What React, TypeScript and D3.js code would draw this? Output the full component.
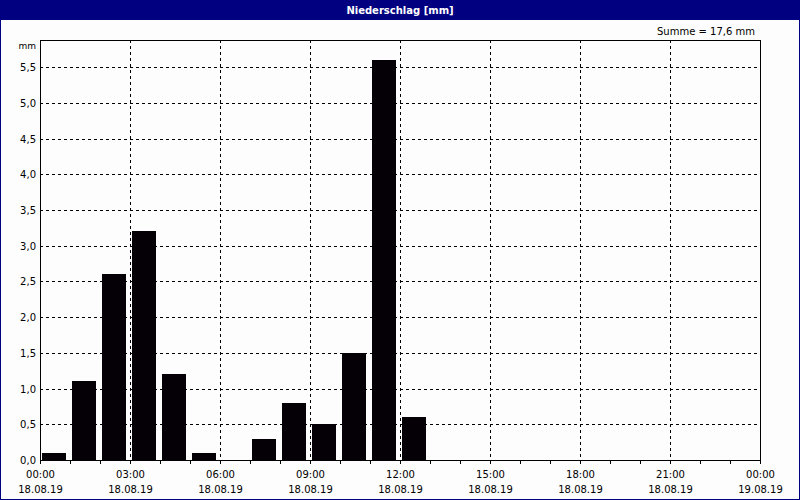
import React, { useEffect, useRef } from 'react';
import * as d3 from 'd3';

// hourly precipitation, 18.08.19 (start hour -> mm)
const hours = [0, 1, 2, 3, 4, 5, 6, 7, 8, 9, 10, 11, 12];
const values = [0.1, 1.1, 2.6, 3.2, 1.2, 0.1, 0, 0.3, 0.8, 0.5, 1.5, 5.6, 0.6];
const yTicks = [0, 0.5, 1, 1.5, 2, 2.5, 3, 3.5, 4, 4.5, 5, 5.5];
const title = 'Niederschlag [mm]';
const unit = 'mm';

const W = 800;
const H = 500;
const FONT = '"DejaVu Sans", Tahoma, sans-serif';

const App: React.FC = () => {
  const svgRef = useRef<SVGSVGElement>(null);

  useEffect(() => {
    if (!svgRef.current) return;
    const svg = d3.select(svgRef.current);
    svg.selectAll('*').remove();

    const margin = { left: 40, right: 40, top: 40, bottom: 40 };
    const start = new Date(2019, 7, 18, 0, 0);
    const end = new Date(2019, 7, 19, 0, 0);

    const x = d3.scaleTime().domain([start, end]).range([margin.left, W - margin.right]);
    const maxVal = d3.max(values) || 1;
    const y = d3.scaleLinear().domain([0, maxVal * 1.05]).range([H - margin.bottom, margin.top]);

    // background + window frame
    svg.append('rect').attr('width', W).attr('height', H).attr('fill', '#fdfdfd');
    svg.append('rect').attr('x', 0.5).attr('y', 0.5).attr('width', W - 1).attr('height', H - 1)
      .attr('fill', 'none').attr('stroke', '#000080');
    svg.append('rect').attr('width', W).attr('height', 20).attr('fill', '#000080');
    svg.append('text')
      .attr('x', W / 2).attr('y', 14)
      .attr('text-anchor', 'middle')
      .attr('fill', '#fff')
      .style('font', `bold 10px ${FONT}`)
      .text(title);

    const sum = d3.sum(values);
    svg.append('text')
      .attr('x', W - 45).attr('y', 35)
      .attr('text-anchor', 'end')
      .attr('fill', '#000')
      .style('font', `10px ${FONT}`)
      .text(`Summe = ${d3.format('.1f')(sum).replace('.', ',')} mm`);

    // grid
    const grid = svg.append('g').attr('stroke', '#000').attr('stroke-dasharray', '3,3').attr('shape-rendering', 'crispEdges');
    grid.selectAll('line.h')
      .data(yTicks.filter(v => v > 0))
      .join('line')
      .attr('x1', margin.left).attr('x2', W - margin.right)
      .attr('y1', d => Math.round(y(d)) + 0.5).attr('y2', d => Math.round(y(d)) + 0.5);
    const gridTimes = d3.timeHour.every(3)!.range(start, end).filter(t => +t > +start);
    grid.selectAll('line.v')
      .data(gridTimes)
      .join('line')
      .attr('x1', d => Math.round(x(d)) + 0.5).attr('x2', d => Math.round(x(d)) + 0.5)
      .attr('y1', margin.top).attr('y2', H - margin.bottom);

    // bars
    svg.append('g')
      .selectAll('rect')
      .data(hours.map((h, i) => ({ t: d3.timeHour.offset(start, h), v: values[i] })).filter(d => d.v > 0))
      .join('rect')
      .attr('x', d => x(d.t) + 2)
      .attr('width', d => x(d3.timeHour.offset(d.t, 1)) - x(d.t) - 6)
      .attr('y', d => Math.round(y(d.v)))
      .attr('height', d => Math.round(y(0)) - Math.round(y(d.v)))
      .attr('fill', '#050005')
      .attr('shape-rendering', 'crispEdges');

    // frame
    svg.append('rect')
      .attr('x', margin.left + 0.5).attr('y', margin.top + 0.5)
      .attr('width', W - margin.left - margin.right).attr('height', H - margin.top - margin.bottom)
      .attr('fill', 'none').attr('stroke', '#000').attr('shape-rendering', 'crispEdges');

    // y axis labels
    const yAxis = svg.append('g').style('font', `10px ${FONT}`).attr('fill', '#000');
    yAxis.selectAll('text.tick')
      .data(yTicks)
      .join('text')
      .attr('x', margin.left - 4)
      .attr('y', d => y(d) + 4)
      .attr('text-anchor', 'end')
      .text(d => d3.format('.1f')(d).replace('.', ','));
    yAxis.append('text')
      .attr('x', margin.left - 4).attr('y', margin.top + 9)
      .attr('text-anchor', 'end')
      .style('font-size', '9px')
      .text(unit);

    // x axis ticks (hourly) and labels (3-hourly)
    const tickG = svg.append('g').attr('stroke', '#000').attr('shape-rendering', 'crispEdges');
    tickG.selectAll('line')
      .data(d3.timeHour.every(1)!.range(start, d3.timeHour.offset(end, 1)))
      .join('line')
      .attr('x1', d => Math.round(x(d)) + 0.5).attr('x2', d => Math.round(x(d)) + 0.5)
      .attr('y1', H - margin.bottom).attr('y2', H - margin.bottom + 4);

    const labelTimes = d3.timeHour.every(3)!.range(start, d3.timeHour.offset(end, 1));
    const xl = svg.append('g').style('font', `10px ${FONT}`).attr('fill', '#000').attr('text-anchor', 'middle');
    xl.selectAll('text.time')
      .data(labelTimes)
      .join('text')
      .attr('x', d => x(d) + 0.5)
      .attr('y', H - margin.bottom + 18)
      .text(d => d3.timeFormat('%H:%M')(d));
    xl.selectAll('text.date')
      .data(labelTimes)
      .join('text')
      .attr('x', d => x(d) + 0.5)
      .attr('y', H - margin.bottom + 33)
      .text(d => d3.timeFormat('%d.%m.%y')(d));
  }, []);

  return (
    <div style={{ position: 'absolute', left: 0, top: 0, width: W, height: H }}>
      <svg ref={svgRef} width={W} height={H} style={{ display: 'block' }} />
    </div>
  );
};

export default App;
